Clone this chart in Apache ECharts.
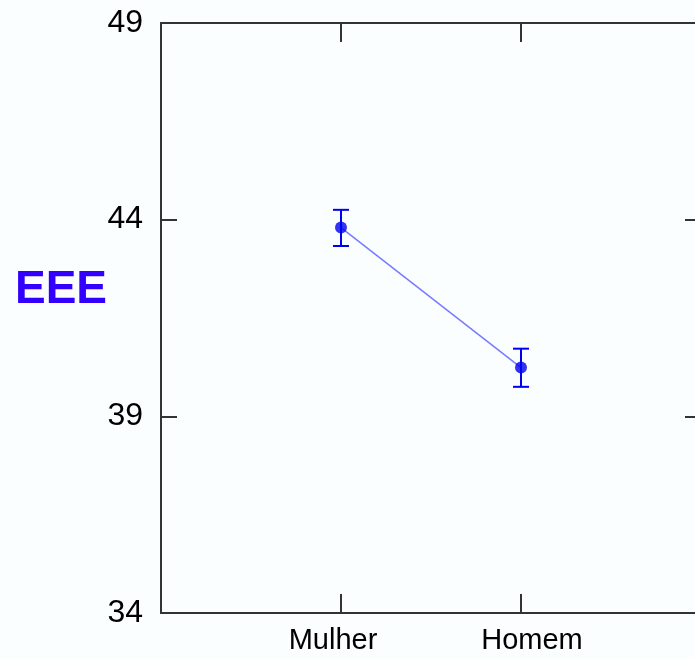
<!DOCTYPE html>
<html>
<head>
<meta charset="utf-8">
<script src="https://cdn.jsdelivr.net/npm/echarts@6/dist/echarts.min.js"></script>
<style>
  html, body { margin: 0; padding: 0; overflow: hidden; background: #fafefe; }
  #chart { width: 712px; height: 659px; }
</style>
</head>
<body>
<div id="chart"></div>
<script>
// Group means of EEE with error bars
const categories = ['Mulher', 'Homem'];
const positions = [1, 2];
const means = [43.80, 40.24];
const errLow = [43.33, 39.75];
const errHigh = [44.25, 40.72];
const yTicks = [34, 39, 44, 49];

const axisColor = '#333333';
const markColor = '#0000ee';
const font = 'Liberation Sans, Arial, sans-serif';

const chart = echarts.init(document.getElementById('chart'), null, { renderer: 'canvas' });

const xBase = {
  type: 'value', min: 0, max: 3, interval: 1,
  axisLine: { onZero: false, lineStyle: { color: axisColor, width: 2 } },
  axisTick: { inside: true, length: 19, lineStyle: { color: axisColor, width: 2 } },
  splitLine: { show: false }
};
const yBase = {
  type: 'value', min: yTicks[0], max: yTicks[yTicks.length - 1], interval: 5,
  axisLine: { onZero: false, lineStyle: { color: axisColor, width: 2 } },
  axisTick: { inside: true, length: 16, lineStyle: { color: axisColor, width: 2 } },
  splitLine: { show: false }
};

chart.setOption({
  backgroundColor: '#fafefe',
  animation: false,
  grid: { left: 161, right: 11, top: 23, bottom: 46, containLabel: false },
  xAxis: [
    Object.assign({}, xBase, {
      position: 'bottom',
      axisLabel: {
        margin: 13,
        fontFamily: font,
        fontSize: 29,
        color: '#000',
        formatter: function (v) {
          const i = positions.indexOf(v);
          if (i === 0) return '{l|' + categories[i] + '}';
          if (i === 1) return '{r|' + categories[i] + '}';
          return '';
        },
        rich: {
          l: { fontSize: 29, color: '#000', fontFamily: font, padding: [0, 16, 0, 0] },
          r: { fontSize: 29, color: '#000', fontFamily: font, padding: [0, 0, 0, 22] }
        }
      }
    }),
    Object.assign({}, xBase, { position: 'top', axisLabel: { show: false } })
  ],
  yAxis: [
    Object.assign({}, yBase, {
      position: 'left',
      axisLabel: {
        margin: 18,
        fontFamily: font,
        fontSize: 32,
        color: '#000',
        padding: [6, 0, 0, 0]
      }
    }),
    Object.assign({}, yBase, { position: 'right', axisLabel: { show: false } })
  ],
  graphic: [{
    type: 'text',
    left: 15,
    top: 267,
    style: {
      text: 'EEE',
      fontFamily: font,
      fontWeight: 'bold',
      fontSize: 46,
      fill: '#3300ff'
    }
  }],
  series: [
    {
      type: 'line',
      data: positions.map((p, i) => [p, means[i]]),
      symbol: 'none',
      lineStyle: { color: '#7a7aff', width: 1.5 },
      z: 2
    },
    {
      type: 'custom',
      data: positions.map((p, i) => [p, errLow[i], errHigh[i]]),
      renderItem: function (params, api) {
        const x = api.value(0);
        const lo = api.coord([x, api.value(1)]);
        const hi = api.coord([x, api.value(2)]);
        const half = 8;
        const st = { stroke: markColor, lineWidth: 2 };
        return {
          type: 'group',
          children: [
            { type: 'line', shape: { x1: lo[0], y1: lo[1], x2: hi[0], y2: hi[1] }, style: st },
            { type: 'line', shape: { x1: lo[0] - half, y1: lo[1], x2: lo[0] + half, y2: lo[1] }, style: st },
            { type: 'line', shape: { x1: hi[0] - half, y1: hi[1], x2: hi[0] + half, y2: hi[1] }, style: st }
          ]
        };
      },
      z: 3
    },
    {
      type: 'scatter',
      data: positions.map((p, i) => [p, means[i]]),
      symbol: 'circle',
      symbolSize: 12,
      itemStyle: { color: markColor },
      z: 4
    }
  ]
});
</script>
</body>
</html>
